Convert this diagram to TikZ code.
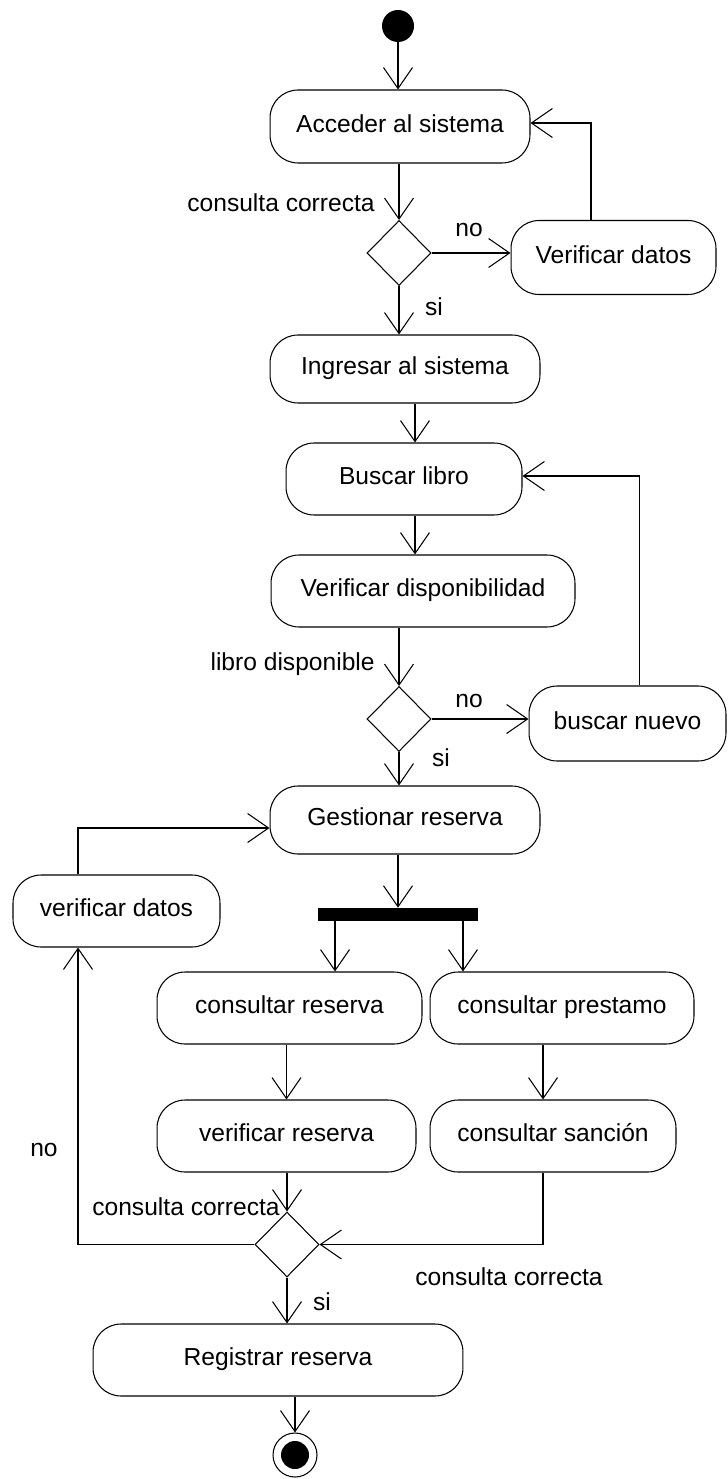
\documentclass[tikz,border=0pt]{standalone}
\usepackage{fontspec}
\setmainfont{Liberation Sans}
\usetikzlibrary{shapes.geometric,arrows.meta}

\begin{document}
\begin{tikzpicture}[x=0.02cm, y=-0.02cm,
    accion/.style={draw, rounded corners=0.56cm, line width=0.6pt, minimum height=1.44cm, text height=1.6ex, text depth=0.4ex, font=\fontsize{14}{17}\selectfont},
    decision/.style={diamond, draw, line width=0.6pt, minimum width=1.28cm, minimum height=1.3cm, inner sep=0pt},
    flecha/.style={line width=0.6pt, -{Straight Barb[length=0.42cm, width=0.58cm]}},
    etiqueta/.style={font=\fontsize{14}{17}\selectfont, inner sep=0pt}]
    \useasboundingbox (0,0) rectangle (727,1479);

    % ノードを置く
    \node[circle, fill, minimum size=0.64cm, inner sep=0pt] (ini) at (398, 26) {};
    \node[accion, minimum width=5.2cm, minimum height=1.46cm] (acc) at (400, 126.5) {Acceder al sistema};
    \node[decision] (d1) at (399, 253) {};
    \node[accion, minimum width=4.1cm, minimum height=1.48cm] (verd) at (613.5, 257.5) {Verificar datos};
    \node[accion, minimum width=5.4cm, minimum height=1.36cm] (ing) at (405, 369) {Ingresar al sistema};
    \node[accion, minimum width=4.72cm] (bus) at (404, 479) {Buscar libro};
    \node[accion, minimum width=6.08cm] (vdis) at (423, 591) {Verificar disponibilidad};
    \node[decision] (d2) at (399, 719) {};
    \node[accion, minimum width=3.94cm, minimum height=1.5cm] (nue) at (627.5, 723.5) {buscar nuevo};
    \node[accion, minimum width=5.4cm, minimum height=1.36cm] (ges) at (405, 820) {Gestionar reserva};
    \node[fill, minimum width=3.2cm, minimum height=0.26cm, inner sep=0pt] (barra) at (398, 914.5) {};
    \node[accion, minimum width=4.14cm] (vdat) at (116.5, 911) {verificar datos};
    \node[accion, minimum width=5.3cm] (cres) at (289.5, 1008) {consultar reserva};
    \node[accion, minimum width=5.28cm] (cpre) at (562, 1008) {consultar prestamo};
    \node[accion, minimum width=5.18cm] (vres) at (286.5, 1136) {verificar reserva};
    \node[accion, minimum width=4.92cm] (csan) at (553, 1136) {consultar sanción};
    \node[decision] (d3) at (287, 1244.5) {};
    \node[accion, minimum width=7.4cm] (reg) at (278, 1360) {Registrar reserva};
    \node[circle, draw, line width=0.6pt, minimum size=0.88cm, inner sep=0pt] (fin) at (295, 1455) {};
    \fill (fin.center) circle (0.28cm);

    % 線を引く
    \draw[flecha] (ini.south) -- (ini.south |- acc.north);
    \draw[flecha] (acc.south -| d1.north) -- (d1.north);
    \draw[flecha] (d1.east) -- (d1.east -| verd.west);
    \draw[flecha] ([xshift=-0.45cm]verd.north) |- ([yshift=0.07cm]acc.east);
    \draw[flecha] (d1.south) -- (d1.south |- ing.north);
    \draw[flecha] ([xshift=0.2cm]ing.south) -- ([xshift=0.2cm]ing.south |- bus.north);
    \draw[flecha] ([xshift=0.22cm]bus.south) -- ([xshift=0.22cm]bus.south |- vdis.north);
    \draw[flecha] (vdis.south -| d2.north) -- (d2.north);
    \draw[flecha] (d2.east) -- (d2.east -| nue.west);
    \draw[flecha] ([xshift=0.24cm]nue.north) |- ([yshift=0.06cm]bus.east);
    \draw[flecha] (d2.south) -- (d2.south |- ges.north);
    \draw[flecha] (ges.south -| barra.north) -- (barra.north);
    \draw[flecha] ([xshift=-1.26cm]barra.south) -- ([xshift=-1.26cm]barra.south |- cres.north);
    \draw[flecha] ([xshift=1.3cm]barra.south) -- ([xshift=1.3cm]barra.south |- cpre.north);
    \draw[flecha] ([xshift=-0.77cm]vdat.north) |- ([yshift=-0.16cm]ges.west);
    \draw[flecha] (cres.south -| vres.north) -- (vres.north);
    \draw[flecha] ([xshift=-0.38cm]cpre.south) -- ([xshift=-0.38cm]cpre.south |- csan.north);
    \draw[flecha] (vres.south -| d3.north) -- (d3.north);
    \draw[flecha] ([xshift=-0.2cm]csan.south) |- (d3.east);
    \draw[flecha] (d3.west) -| ([xshift=-0.77cm]vdat.south);
    \draw[flecha] (d3.south) -- (d3.south |- reg.north);
    \draw[flecha] (reg.south -| fin.north) -- (fin.north);

    % ラベルを入れる
    \node[etiqueta, anchor=east] (l1) at (375, 203) {consulta correcta};
    \node[etiqueta] (l2) at (469, 230) {no};
    \node[etiqueta] (l3) at (434, 307) {si};
    \node[etiqueta, anchor=east] (l4) at (375, 664) {libro disponible};
    \node[etiqueta] (l5) at (469, 701) {no};
    \node[etiqueta] (l6) at (441, 758) {si};
    \node[etiqueta] (l7) at (44, 1150) {no};
    \node[etiqueta, anchor=east] (l8) at (280, 1207) {consulta correcta};
    \node[etiqueta, anchor=west] (l9) at (415, 1277) {consulta correcta};
    \node[etiqueta] (l10) at (322, 1302) {si};

\end{tikzpicture}
\end{document}
